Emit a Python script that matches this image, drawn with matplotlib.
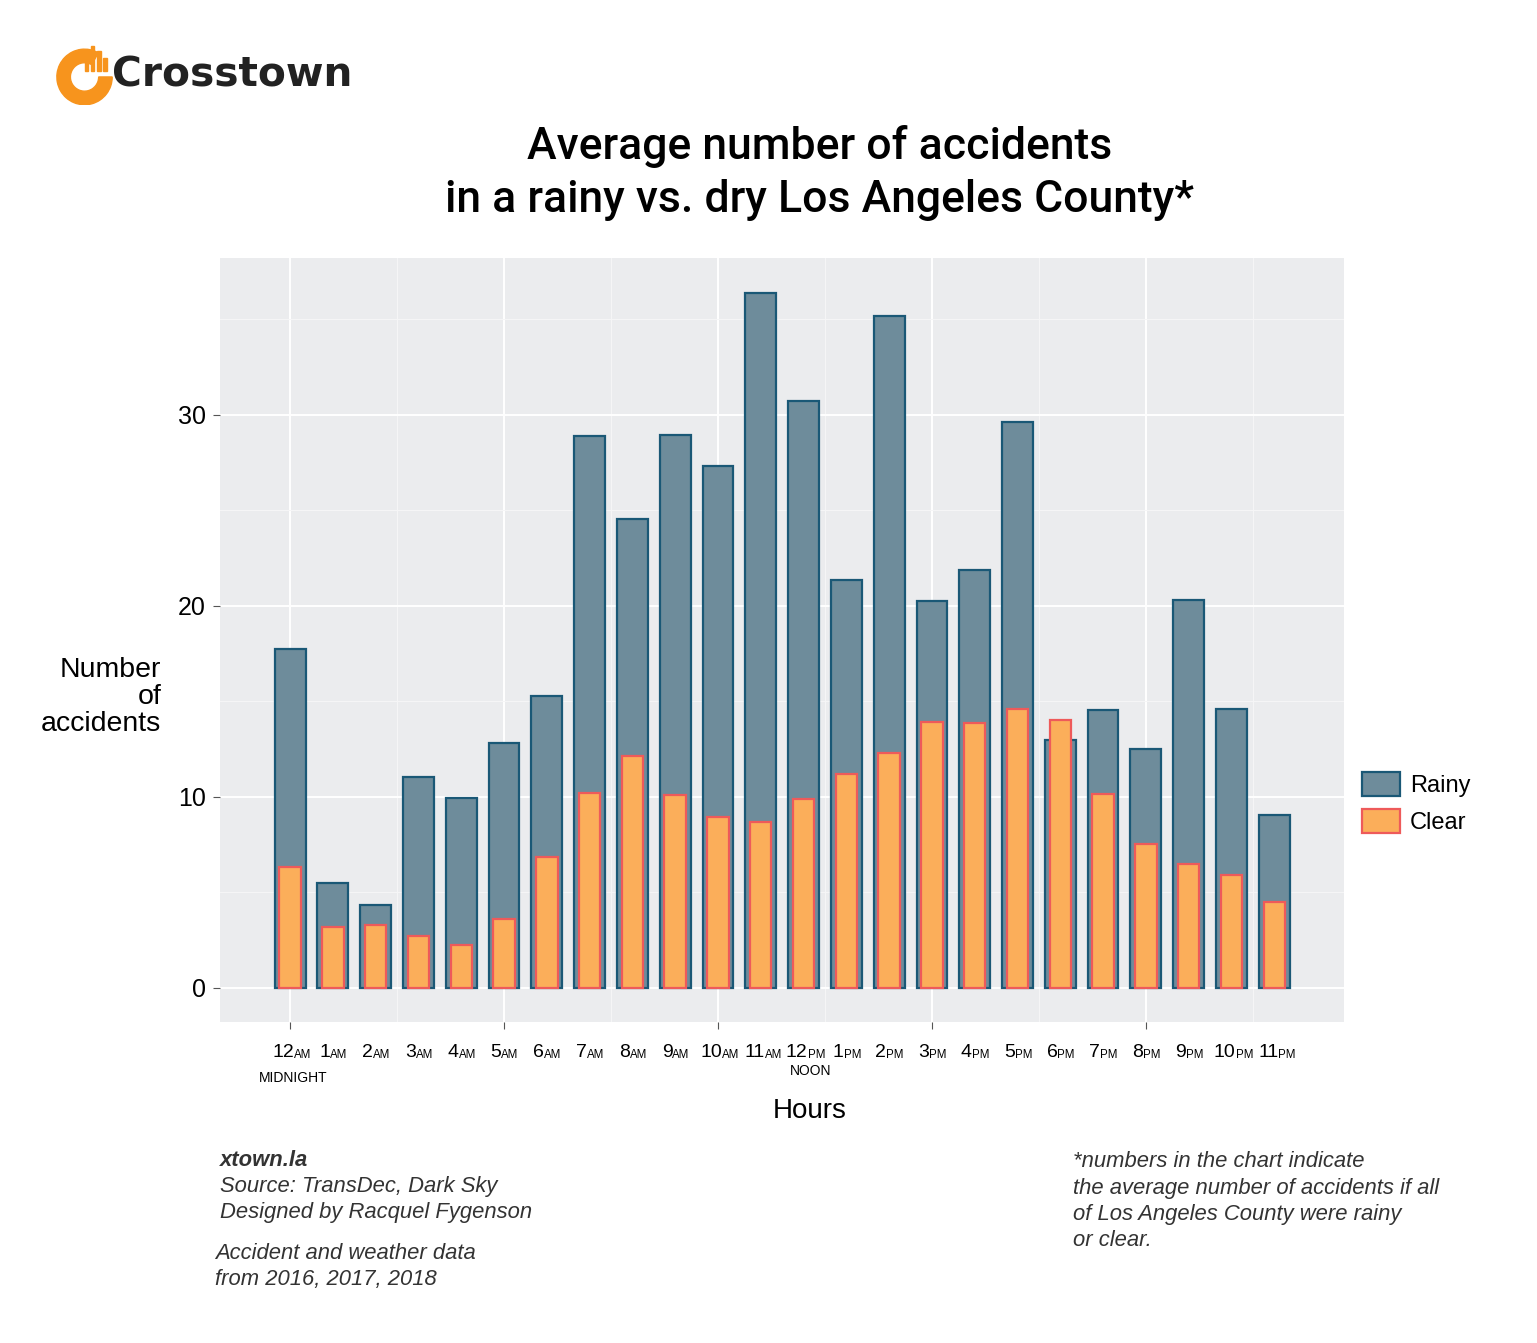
import matplotlib.pyplot as plt
import numpy as np
from matplotlib.patches import Wedge, Rectangle

# data
hours = ["12", "1", "2", "3", "4", "5", "6", "7", "8", "9", "10", "11",
         "12", "1", "2", "3", "4", "5", "6", "7", "8", "9", "10", "11"]
suffix = ["AM"] * 12 + ["PM"] * 12
rainy = [17.75, 5.5, 4.35, 11.05, 9.95, 12.83, 15.29, 28.9, 24.55, 28.95, 27.33, 36.39,
         30.73, 21.36, 35.18, 20.26, 21.88, 29.63, 12.98, 14.55, 12.51, 20.31, 14.6, 9.06]
clear = [6.34, 3.19, 3.3, 2.72, 2.25, 3.61, 6.86, 10.21, 12.15, 10.1, 8.95, 8.69,
         9.9, 11.2, 12.3, 13.93, 13.87, 14.6, 14.03, 10.16, 7.54, 6.49, 5.92, 4.5]

plt.rcParams['font.family'] = ['Liberation Sans', 'DejaVu Sans']

fig = plt.figure(figsize=(15.37, 13.43), dpi=100)
ax = fig.add_axes([0.1431, 0.2390, 0.7313, 0.5689])

x = np.arange(len(rainy))
ax.set_facecolor('#EBECEE')
ax.bar(x, rainy, width=0.72, color='#6E8C9B', edgecolor='#1A5876', linewidth=1.6,
       label='Rainy', zorder=3)
ax.bar(x, clear, width=0.5, color='#FBAE5A', edgecolor='#EE5A5A', linewidth=1.6,
       label='Clear', zorder=4)

ax.set_xlim(-1.64, 24.63)
ax.set_ylim(-1.8, 38.2)
ax.set_yticks([0, 10, 20, 30])
ax.set_yticks([5, 15, 25, 35], minor=True)
ax.set_xticks([0, 5, 10, 15, 20])
ax.set_xticks([2.5, 7.5, 12.5, 17.5, 22.5], minor=True)
ax.set_xticklabels([])
ax.grid(True, which='major', color='white', linewidth=1.4, zorder=0)
ax.grid(True, which='minor', color='#F6F6F7', linewidth=0.7, zorder=0)
ax.set_axisbelow(True)
for s in ax.spines.values():
    s.set_visible(False)
ax.tick_params(axis='y', which='major', labelsize=18, length=5, color='#555555', pad=5)
ax.tick_params(axis='x', which='major', length=5, color='#555555')
ax.tick_params(which='minor', length=0)

# custom hour labels
trans = ax.get_xaxis_transform()
for i, (h, s) in enumerate(zip(hours, suffix)):
    numw = 10 * len(h)
    sufw = 14
    off = (numw - sufw) / 2
    ax.annotate(h, xy=(i, 0), xycoords=trans, xytext=(off, -16), textcoords='offset points',
                ha='right', va='top', fontsize=14, annotation_clip=False)
    ax.annotate(s, xy=(i, 0), xycoords=trans, xytext=(off, -19.5), textcoords='offset points',
                ha='left', va='top', fontsize=8.3, annotation_clip=False)
ax.annotate('MIDNIGHT', xy=(0, 0), xycoords=trans, xytext=(2, -35), textcoords='offset points',
            ha='center', va='top', fontsize=10, annotation_clip=False)
ax.annotate('NOON', xy=(12, 0), xycoords=trans, xytext=(5, -30), textcoords='offset points',
            ha='center', va='top', fontsize=10, annotation_clip=False)

fig.text(0.527, 0.173, 'Hours', ha='center', va='center', fontsize=20)
fig.text(0.105, 0.481, 'Number\nof\naccidents', ha='right', va='center', fontsize=20.5,
         linespacing=1.05)

fig.text(0.533, 0.871, 'Average number of accidents\nin a rainy vs. dry Los Angeles County*',
         ha='center', va='center', fontsize=32, linespacing=1.32, family='Roboto',
         weight='medium')

leg = ax.legend(loc='center left', bbox_to_anchor=(0.997, 0.287), frameon=False,
                fontsize=17, handlelength=1.6, handleheight=1.2, labelspacing=0.5,
                handletextpad=0.45)

# footer
foot = dict(fontsize=15.8, style='italic', color='#333333', va='center')
fig.text(0.143, 0.136, 'xtown.la', weight='bold', **foot)
fig.text(0.143, 0.1165, 'Source: TransDec, Dark Sky', **foot)
fig.text(0.143, 0.097, 'Designed by Racquel Fygenson', **foot)
fig.text(0.140, 0.0665, 'Accident and weather data', **foot)
fig.text(0.140, 0.047, 'from 2016, 2017, 2018', **foot)
fig.text(0.698, 0.1055, '*numbers in the chart indicate\nthe average number of accidents if all\n'
         'of Los Angeles County were rainy\nor clear.', linespacing=1.33, **foot)

# logo
lax = fig.add_axes([0.035, 0.922, 0.04, 0.046])
lax.set_xlim(0, 1)
lax.set_ylim(0, 1)
lax.axis('off')
lax.add_patch(Wedge((0.5, 0.45), 0.45, 60, 360, width=0.22, color='#F7941D'))
for k, hgt in enumerate([0.25, 0.4, 0.32, 0.2]):
    lax.add_patch(Rectangle((0.5 + k * 0.1, 0.55), 0.06, hgt, color='#F7941D'))
fig.text(0.073, 0.944, 'Crosstown', fontsize=29.3, weight='bold', color='#222222', va='center',
         family='DejaVu Sans')

fig.savefig('out.png', dpi=100)
